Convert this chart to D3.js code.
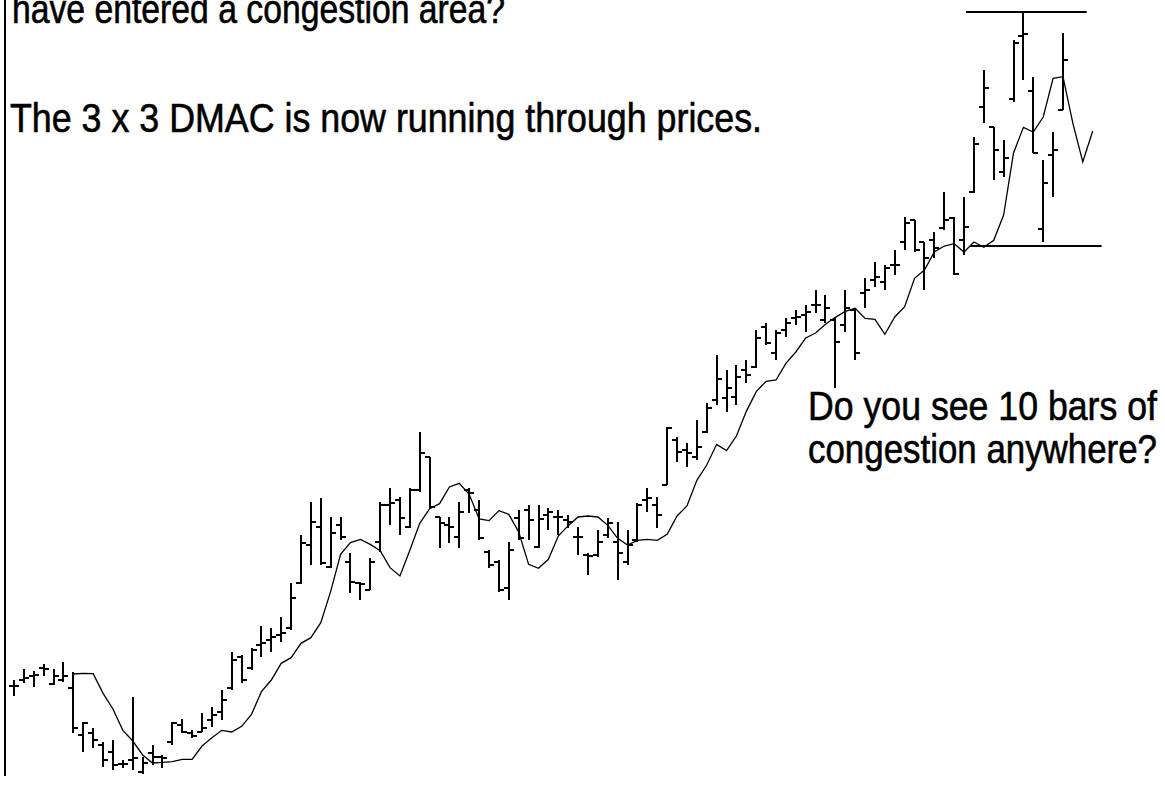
<!DOCTYPE html>
<html>
<head>
<meta charset="utf-8">
<script src="https://d3js.org/d3.v7.min.js"></script>
<style>
  html, body { margin: 0; padding: 0; background: #fff; }
  svg { display: block; }
  text { font-family: "Liberation Sans", Arial, sans-serif; fill: #000; }
</style>
</head>
<body>
<div id="chart"></div>
<script>
// daily bars, price points
const highs = [120,131,129,136,131,138,128,78,72,58,60,40,103,43,55,45,78,81,70,87,93,110,148,145,152,174,172,183,217,265,298,302,283,283,247,218,242,298,312,303,312,368,343,283,283,298,312,300,250,240,258,290,295,295,292,290,285,273,247,270,282,278,270,297,312,303,373,363,357,380,397,445,430,435,440,470,477,470,482,490,495,510,505,482,510,492,522,538,535,550,583,580,558,568,608,583,603,663,730,673,660,760,788,723,640,668,767];
const lows = [104,117,113,124,115,118,67,48,52,33,30,32,30,26,35,32,55,67,62,68,73,80,110,117,130,143,148,158,170,216,235,235,232,260,207,200,210,248,275,265,272,308,292,252,257,252,287,260,232,208,200,260,260,252,270,265,272,245,225,243,262,220,235,258,288,272,315,338,333,340,367,395,388,395,417,432,455,440,463,475,468,487,477,412,468,440,492,513,510,525,550,548,510,542,570,525,545,607,677,620,623,698,720,647,558,603,690];
const opens = [114,120,124,132,116,120,112,65,67,55,48,36,40,28,47,43,58,75,67,68,80,88,112,143,132,155,160,165,172,217,255,273,233,275,238,217,210,258,295,300,273,310,343,283,275,263,310,290,248,238,212,282,290,253,285,283,280,263,245,245,265,258,238,260,300,295,315,360,350,343,368,400,402,403,430,433,473,447,470,482,485,495,480,480,475,490,507,520,518,535,558,580,558,560,572,582,560,608,693,673,628,701,764,709,571,645,690];
const closes = [114,122,125,131,124,124,72,77,60,40,35,36,42,37,43,42,77,68,64,72,85,100,140,120,150,157,163,167,202,257,278,237,267,263,218,216,238,295,297,282,310,347,293,277,273,288,307,262,235,210,250,262,280,281,288,283,278,263,244,258,277,247,255,295,302,285,372,348,347,353,392,421,412,423,425,462,457,467,477,483,488,495,492,458,492,447,510,523,532,535,577,550,542,552,580,526,573,656,712,650,642,757,766,647,617,650,740];

// 3 x 3 DMAC: 3-bar average of closes pushed 3 bars forward
const maLength = 3, maShift = 3, maFirst = 6;

// congestion lines on the right (bar index from/to, price level)
const boxTop = { from: 96.2, to: 108.4, level: 788 };
const boxBottom = { from: 96.6, to: 109.9, level: 554 };

const notes = [
  { text: "have entered a congestion area?", x: 12, y: 23, w: 493, size: 40 },
  { text: "The 3 x 3 DMAC is now running through prices.", x: 10, y: 132, w: 752, size: 40 },
  { text: "Do you see 10 bars of", x: 808, y: 420, w: 349, size: 41 },
  { text: "congestion anywhere?", x: 808, y: 463, w: 349, size: 41 }
];

const bars = highs.map((h, i) => ({ i, h, l: lows[i], o: opens[i], c: closes[i] }));

const ma = [];
for (let i = maFirst; i < bars.length + maShift; i++) {
  const j = i - maShift;
  ma.push({ i, v: d3.mean(closes.slice(j - maLength + 1, j + 1)) });
}

const width = 1165, height = 787;
const svg = d3.select("#chart").append("svg")
  .attr("width", width).attr("height", height);

const x = d3.scaleLinear().domain([0, bars.length - 1]).range([14, 1063]);
const y = d3.scaleLinear().domain([0, 800]).range([800, 0]);

// left frame line
svg.append("line")
  .attr("x1", 5).attr("x2", 5).attr("y1", 0).attr("y2", 776)
  .attr("stroke", "#000").attr("stroke-width", 2);

// moving average
svg.append("path")
  .datum(ma)
  .attr("fill", "none")
  .attr("stroke", "#000")
  .attr("stroke-width", 1.3)
  .attr("d", d3.line().x(d => x(d.i)).y(d => y(d.v)));

// OHLC bars
const g = svg.append("g").attr("stroke", "#000").attr("stroke-width", 2);
const bar = g.selectAll("g.bar").data(bars).enter().append("g").attr("class", "bar");
bar.append("line")
  .attr("x1", d => Math.round(x(d.i))).attr("x2", d => Math.round(x(d.i)))
  .attr("y1", d => y(d.h)).attr("y2", d => y(d.l));
bar.append("line")
  .attr("x1", d => Math.round(x(d.i)) - 5).attr("x2", d => Math.round(x(d.i)))
  .attr("y1", d => y(d.o)).attr("y2", d => y(d.o));
bar.append("line")
  .attr("x1", d => Math.round(x(d.i))).attr("x2", d => Math.round(x(d.i)) + 5)
  .attr("y1", d => y(d.c)).attr("y2", d => y(d.c));

// congestion lines
[boxTop, boxBottom].forEach(b => {
  svg.append("line")
    .attr("x1", x(b.from)).attr("x2", x(b.to))
    .attr("y1", y(b.level)).attr("y2", y(b.level))
    .attr("stroke", "#000").attr("stroke-width", 2);
});

// text
svg.selectAll("text.note").data(notes).enter().append("text")
  .attr("class", "note")
  .attr("x", d => d.x).attr("y", d => d.y)
  .attr("font-size", d => d.size)
  .attr("stroke", "#000").attr("stroke-width", 0.6)
  .attr("textLength", d => d.w)
  .attr("lengthAdjust", "spacingAndGlyphs")
  .text(d => d.text);
</script>
</body>
</html>
